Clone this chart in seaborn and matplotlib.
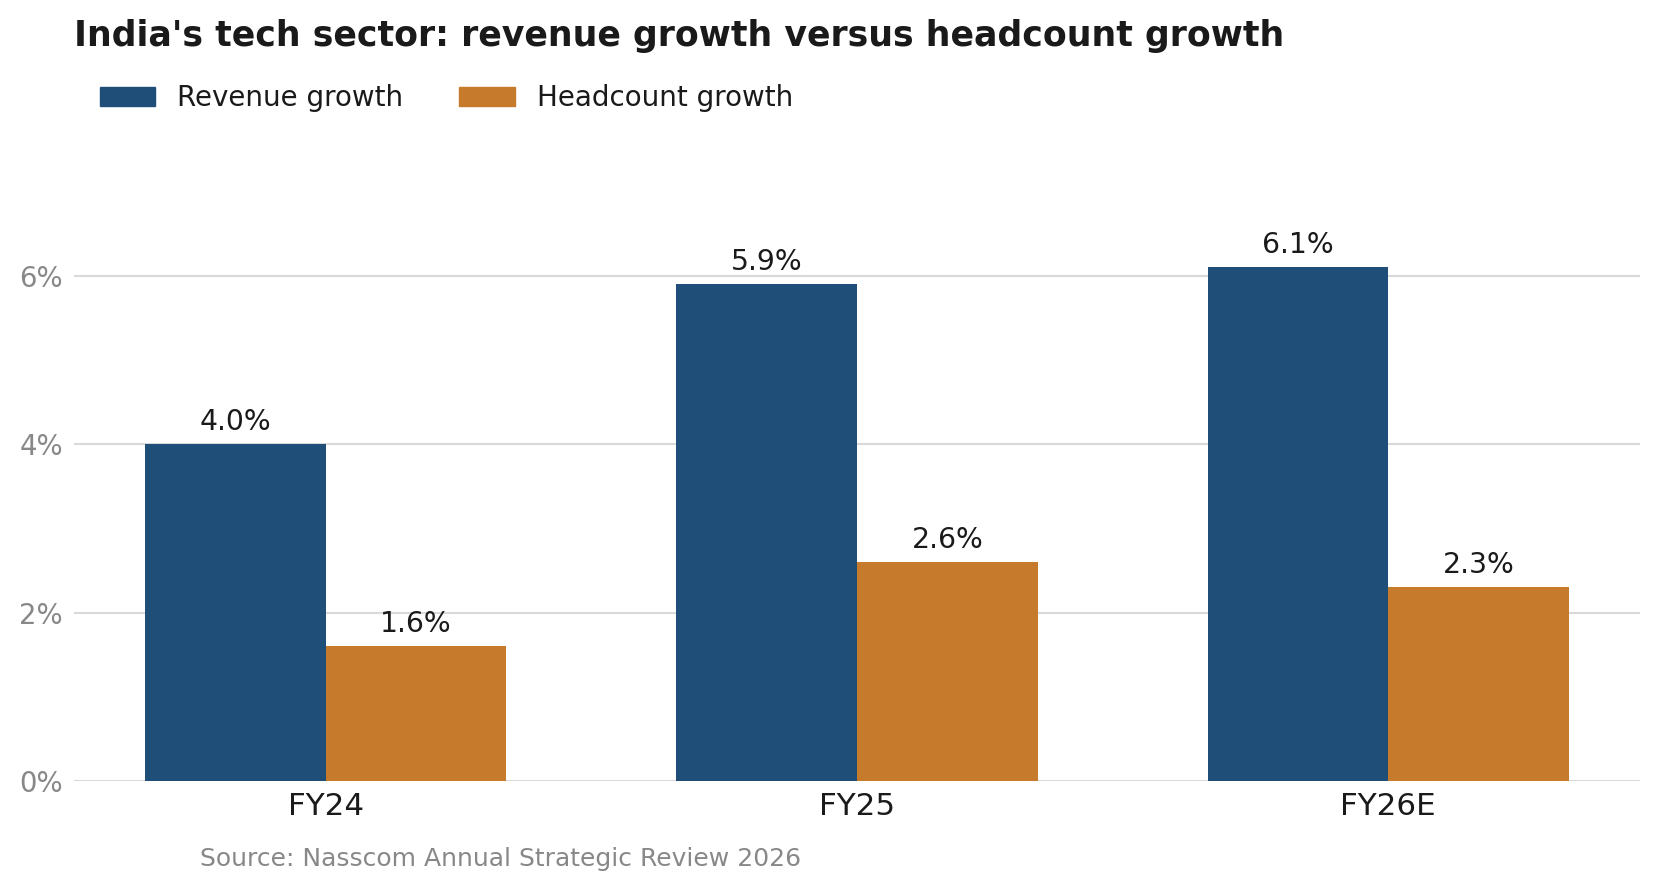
import pandas as pd
import matplotlib
matplotlib.use("Agg")
import matplotlib.pyplot as plt
import seaborn as sns

years = ["FY24", "FY25", "FY26E"]
revenue_growth = [4.0, 5.9, 6.1]
headcount_growth = [1.6, 2.6, 2.3]
series_names = ["Revenue growth", "Headcount growth"]
colors = ["#1f4e79", "#c67a2b"]

df = pd.DataFrame({
    "year": years * 2,
    "value": revenue_growth + headcount_growth,
    "series": [series_names[0]] * 3 + [series_names[1]] * 3,
})

sns.set_theme(style="white")
plt.rcParams["font.family"] = ["DejaVu Sans"]

fig = plt.figure(figsize=(16.59, 8.92), dpi=100)
ax = fig.add_axes([0.0446, 0.1244, 0.944, 0.691])

sns.barplot(data=df, x="year", y="value", hue="series", palette=colors,
            width=0.68, saturation=1, linewidth=0, ax=ax, legend=False)

# value labels on top of each bar
for cont in ax.containers:
    ax.bar_label(cont, labels=[f"{v:.1f}%" for v in cont.datavalues],
                 padding=6, fontsize=20.3, color="#1a1a1a")

ax.set_xlim(-0.474, 2.474)
ax.set_ylim(0, 7.32)
ax.set_yticks([0, 2, 4, 6])
ax.set_yticklabels(["0%", "2%", "4%", "6%"])
ax.tick_params(axis="y", labelsize=19.8, labelcolor="#888888", length=0, pad=8)
ax.tick_params(axis="x", labelsize=22.3, labelcolor="#1a1a1a", length=0, pad=8)
ax.set_xlabel("")
ax.set_ylabel("")
ax.grid(axis="y", color="#d9d9d9", linewidth=1.5)
ax.set_axisbelow(True)
for s in ax.spines.values():
    s.set_visible(False)

handles = [plt.Rectangle((0, 0), 1, 1, color=c) for c in colors]
fig.legend(handles, series_names, loc="center left", bbox_to_anchor=(0.045, 0.89),
           ncol=2, frameon=False, fontsize=20, labelcolor="#1a1a1a",
           handlelength=2.0, handleheight=0.7, handletextpad=0.8, columnspacing=2.0)

fig.text(0.0446, 0.96, "India's tech sector: revenue growth versus headcount growth",
         fontsize=25, fontweight="bold", color="#1a1a1a", va="center", ha="left")
fig.text(0.1206, 0.037, "Source: Nasscom Annual Strategic Review 2026",
         fontsize=18, color="#888888", va="center", ha="left")

fig.savefig("out.png", dpi=100, facecolor="white")
